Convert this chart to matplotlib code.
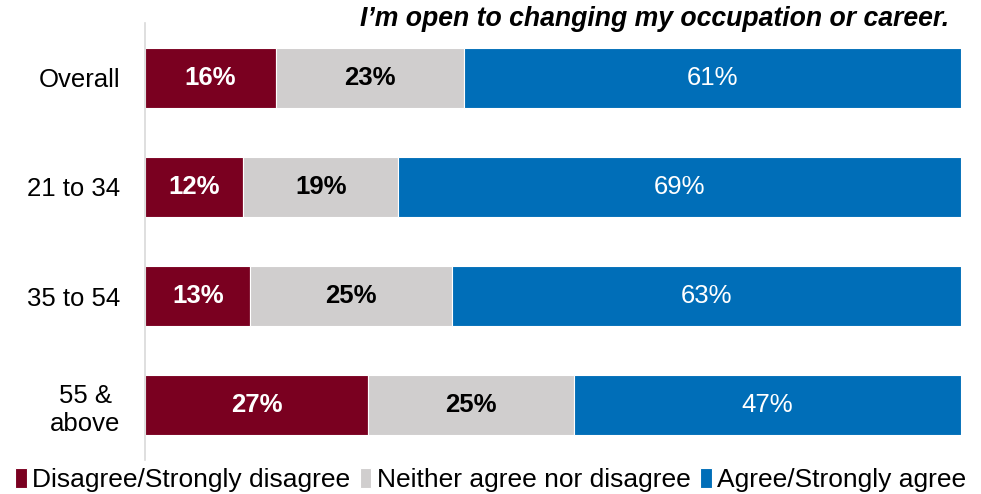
import numpy as np
import matplotlib.pyplot as plt

plt.rcParams["font.family"] = ["Liberation Sans", "DejaVu Sans"]

groups = ["Overall", "21 to 34", "35 to 54", "55 &\nabove"]
series = ["Disagree/Strongly disagree", "Neither agree nor disagree", "Agree/Strongly agree"]
disagree = [16, 12, 13, 27]
neutral = [23, 19, 25, 25]
agree = [61, 69, 63, 47]

colors = ["#7a0020", "#d0cece", "#006eb8"]
label_colors = ["white", "black", "white"]
label_weights = ["bold", "bold", "normal"]

vals = np.array([disagree, neutral, agree], dtype=float)
# rows don't always add to exactly 100 due to rounding, so scale each bar to full width
shares = vals / vals.sum(axis=0) * 100

fig = plt.figure(figsize=(9.81, 4.94), dpi=100)
ax = fig.add_axes([0.148, 0.069, 0.832, 0.884])

y = np.arange(len(groups))
left = np.zeros(len(groups))
for i in range(len(series)):
    ax.barh(y, shares[i], left=left, height=0.55, color=colors[i],
            edgecolor="white", linewidth=0.8, label=series[i])
    for j in range(len(groups)):
        ax.text(left[j] + shares[i][j] / 2, y[j], f"{int(vals[i][j])}%",
                ha="center", va="center", fontsize=18.5,
                color=label_colors[i], fontweight=label_weights[i])
    left += shares[i]

ax.set_xlim(0, 100)
ax.set_ylim(len(groups) - 0.5, -0.5)
ax.set_yticks(y)
ax.set_yticklabels(groups, fontsize=18.5, multialignment="center")
ax.tick_params(axis="y", length=0, pad=18)
ax.set_xticks([])
for s in ["top", "right", "bottom"]:
    ax.spines[s].set_visible(False)
ax.spines["left"].set_color("#d9d9d9")
ax.spines["left"].set_linewidth(1.2)

fig.text(0.967, 0.962, "I\u2019m open to changing my occupation or career.",
         ha="right", va="center", fontsize=19.2, fontweight="bold", fontstyle="italic")

fig.legend(loc="lower center", bbox_to_anchor=(0.5, -0.018), ncol=3, frameon=False,
           fontsize=19, handlelength=0.45, handleheight=0.75, handletextpad=0.2,
           columnspacing=0.35, borderaxespad=0)

fig.savefig("out.png", dpi=100)
